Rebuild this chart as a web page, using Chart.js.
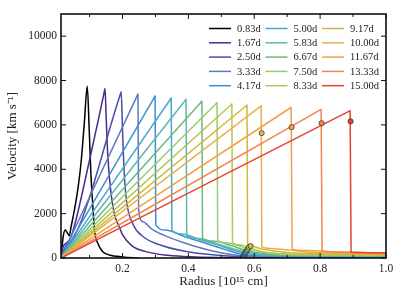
<!DOCTYPE html>
<html>
<head>
<meta charset="utf-8">
<script src="https://cdn.jsdelivr.net/npm/chart.js@4.4.0/dist/chart.umd.min.js"></script>
<style>
  html, body { margin: 0; padding: 0; background: #fff; }
  canvas { display: block; }
</style>
</head>
<body>
<canvas id="velocity-chart" width="407" height="305"></canvas>
<script>
(function() {
  'use strict';

  // Epochs (legend order) and line colours
  const epochs = ['0.83d', '1.67d', '2.50d', '3.33d', '4.17d',
                  '5.00d', '5.83d', '6.67d', '7.50d', '8.33d',
                  '9.17d', '10.00d', '11.67d', '13.33d', '15.00d'];
  const colors = ['#000000', '#4a2a8e', '#4b4ba8', '#5b78c0', '#3d8fcf',
                  '#4aa6cf', '#5db7b0', '#6ab97c', '#9ccb6e', '#b5c654',
                  '#d2b83a', '#e6b04e', '#f09f45', '#ef8650', '#e5452e'];

  // [radius (1e15 cm), velocity (km/s)]
  const p0_83 = [[0.0133, 0], [0.020, 960], [0.026, 1260], [0.0335, 1110], [0.0385, 1000], [0.044, 1410],
                 [0.054, 2160], [0.064, 3060], [0.074, 4270], [0.084, 6070], [0.093, 7740], [0.099, 5770],
                 [0.104, 3820], [0.110, 2310], [0.115, 1260], [0.125, 660], [0.140, 285], [0.160, 135],
                 [0.200, 50], [0.250, 0]];
  const p1_67 = [[0.0133, 0], [0.020, 510], [0.0285, 660], [0.0386, 810], [0.049, 1185], [0.099, 4350],
                 [0.143, 7366], [0.147, 7640], [0.150, 6520], [0.155, 4720], [0.163, 3210], [0.175, 2010],
                 [0.190, 1410], [0.200, 1050], [0.228, 560], [0.268, 300], [0.338, 120], [0.420, 50],
                 [0.566, 20], [0.700, 12], [1.0, 8]];
  const p2_50 = [[0.0133, 0], [0.030, 600], [0.045, 750], [0.192, 7311], [0.196, 7490], [0.200, 5800],
                 [0.205, 3900], [0.212, 2600], [0.233, 1490], [0.263, 960], [0.308, 620], [0.390, 300],
                 [0.480, 130], [0.567, 55], [0.700, 35], [1.0, 25]];
  const p3_33 = [[0.0133, 0], [0.243, 7264], [0.247, 7390], [0.249, 2160], [0.262, 1635], [0.289, 1300],
                 [0.338, 950], [0.400, 620], [0.470, 330], [0.568, 100], [0.700, 60], [1.0, 45]];
  const p4_17 = [[0.0133, 0], [0.295, 7198], [0.299, 7300], [0.301, 1490], [0.330, 1260], [0.390, 960],
                 [0.450, 680], [0.510, 390], [0.570, 150], [0.700, 80], [1.0, 60]];
  const p5_00 = [[0.0133, 0], [0.344, 7124], [0.348, 7210], [0.350, 1250], [0.380, 1080], [0.430, 860],
                 [0.490, 580], [0.572, 210], [0.700, 100], [1.0, 75]];
  const p5_83 = [[0.0133, 0], [0.389, 7075], [0.393, 7150], [0.395, 1000], [0.430, 880], [0.480, 680],
                 [0.574, 270], [0.700, 120], [1.0, 90]];
  const p6_67 = [[0.0133, 0], [0.437, 7004], [0.441, 7070], [0.443, 870], [0.480, 760], [0.530, 560],
                 [0.577, 330], [0.700, 140], [1.0, 105]];
  const p7_50 = [[0.0133, 0], [0.483, 6941], [0.487, 7000], [0.489, 770], [0.520, 680], [0.555, 540],
                 [0.580, 400], [0.700, 160], [1.0, 120]];
  const p8_33 = [[0.0133, 0], [0.528, 6886], [0.532, 6940], [0.534, 680], [0.560, 590], [0.584, 480],
                 [0.620, 300], [0.700, 180], [1.0, 135]];
  const p9_17 = [[0.0133, 0], [0.574, 6841], [0.578, 6890], [0.580, 610], [0.589, 540], [0.620, 420],
                 [0.700, 250], [0.800, 190], [1.0, 150]];
  const p10_00 = [[0.0133, 0], [0.617, 6815], [0.621, 6860], [0.623, 500], [0.660, 420], [0.750, 280],
                  [0.850, 210], [1.0, 165]];
  const p11_67 = [[0.0133, 0], [0.708, 6751], [0.712, 6790], [0.715, 400], [0.760, 340], [0.850, 260],
                  [1.0, 185]];
  const p13_33 = [[0.0133, 0], [0.799, 6666], [0.803, 6700], [0.806, 320], [0.870, 270], [1.0, 205]];
  const p15_00 = [[0.0133, 0], [0.887, 6610], [0.891, 6640], [0.894, 255], [0.950, 240], [1.0, 225]];

  const profiles = [p0_83, p1_67, p2_50, p3_33, p4_17, p5_00, p5_83, p6_67,
                    p7_50, p8_33, p9_17, p10_00, p11_67, p13_33, p15_00];

  // Circle markers, one per epoch
  const markerRadius = [0.565, 0.566, 0.567, 0.568, 0.570, 0.572, 0.574, 0.577,
                        0.580, 0.584, 0.589, 0.6225, 0.7135, 0.8045, 0.8925];
  const markerVelocity = [5, 20, 55, 100, 150, 210, 270, 330,
                          400, 480, 540, 5630, 5900, 6080, 6160];

  const xTicks = [0.2, 0.4, 0.6, 0.8, 1.0];
  const xMinorTicks = [0.1, 0.3, 0.5, 0.7, 0.9];
  const yTicks = [0, 2000, 4000, 6000, 8000, 10000];

  const FONT = "'Liberation Serif', 'Times New Roman', serif";
  const INK = '#222';

  const datasets = profiles.map((pts, i) => ({
    label: epochs[i],
    data: pts.map(p => ({ x: p[0], y: p[1] })),
    borderColor: colors[i],
    borderWidth: 1.5,
    pointRadius: 0,
    fill: false,
    cubicInterpolationMode: 'monotone',
    order: -i
  }));

  datasets.push({
    label: 'markers',
    data: markerRadius.map((r, i) => ({ x: r, y: markerVelocity[i] })),
    showLine: false,
    pointRadius: 2.6,
    pointBackgroundColor: colors,
    pointBorderColor: 'rgba(40,40,40,0.85)',
    pointBorderWidth: 0.8,
    order: -100
  });

  // Frame with inward ticks on all four sides
  const framePlugin = {
    id: 'frame',
    afterDraw(chart) {
      const { ctx, chartArea: a, scales } = chart;
      ctx.save();
      ctx.strokeStyle = '#111';
      ctx.lineWidth = 1;
      const tick = (x1, y1, x2, y2) => {
        ctx.beginPath(); ctx.moveTo(x1, y1); ctx.lineTo(x2, y2); ctx.stroke();
      };
      xTicks.forEach(v => {
        const x = scales.x.getPixelForValue(v);
        tick(x, a.bottom, x, a.bottom - 5);
        tick(x, a.top, x, a.top + 5);
      });
      xMinorTicks.forEach(v => {
        const x = scales.x.getPixelForValue(v);
        tick(x, a.bottom, x, a.bottom - 3);
        tick(x, a.top, x, a.top + 3);
      });
      yTicks.forEach(v => {
        const y = scales.y.getPixelForValue(v);
        tick(a.left, y, a.left + 5, y);
        tick(a.right, y, a.right - 5, y);
      });
      ctx.lineWidth = 1.6;
      ctx.strokeRect(a.left, a.top, a.right - a.left, a.bottom - a.top);
      ctx.restore();
    }
  };

  // Legend in three columns, filled column by column
  const legendPlugin = {
    id: 'columnLegend',
    afterDraw(chart) {
      const ctx = chart.ctx;
      ctx.save();
      ctx.font = '10.5px ' + FONT;
      ctx.fillStyle = INK;
      ctx.textBaseline = 'middle';
      epochs.forEach((name, i) => {
        const col = Math.floor(i / 5);
        const row = i % 5;
        const x = 209 + col * 56.5;
        const y = 28.5 + row * 14.3;
        ctx.strokeStyle = colors[i];
        ctx.lineWidth = 1.5;
        ctx.beginPath(); ctx.moveTo(x, y); ctx.lineTo(x + 22, y); ctx.stroke();
        ctx.fillText(name, x + 28, y + 0.5);
      });
      ctx.restore();
    }
  };

  new Chart(document.getElementById('velocity-chart').getContext('2d'), {
    type: 'line',
    data: { datasets },
    options: {
      responsive: false,
      animation: false,
      layout: { padding: { left: 0, right: 21, top: 14, bottom: 0 } },
      plugins: { legend: { display: false }, tooltip: { enabled: false } },
      scales: {
        x: {
          type: 'linear',
          min: 0.0133,
          max: 1.0,
          grid: { display: false, drawTicks: false },
          border: { display: false },
          afterBuildTicks: s => { s.ticks = xTicks.map(v => ({ value: v })); },
          afterFit: s => { s.height = 47; },
          ticks: {
            padding: 4,
            color: INK,
            font: { family: FONT, size: 11.5 },
            callback: v => Number(v).toFixed(1)
          },
          title: {
            display: true,
            text: 'Radius [10¹⁵ cm]',
            color: INK,
            font: { family: FONT, size: 13 },
            padding: { top: 0, bottom: 16 }
          }
        },
        y: {
          min: 0,
          max: 11000,
          grid: { display: false, drawTicks: false },
          border: { display: false },
          afterBuildTicks: s => { s.ticks = yTicks.map(v => ({ value: v })); },
          afterFit: s => { s.width = 61; },
          ticks: {
            padding: 4,
            color: INK,
            font: { family: FONT, size: 11.5 },
            callback: v => String(v)
          },
          title: {
            display: true,
            text: 'Velocity [km s⁻¹]',
            color: INK,
            font: { family: FONT, size: 13 },
            padding: { top: 5, bottom: 0 }
          }
        }
      }
    },
    plugins: [framePlugin, legendPlugin]
  });
})();
</script>
</body>
</html>
